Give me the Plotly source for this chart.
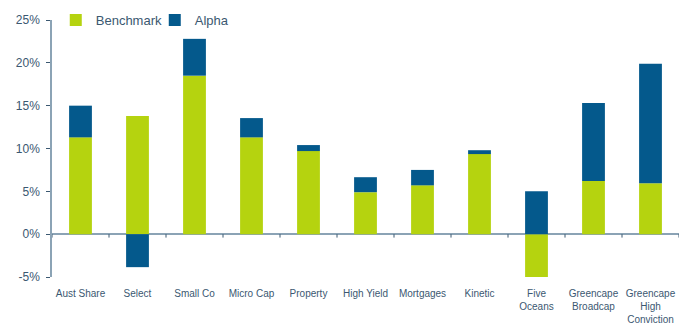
import plotly.graph_objects as go

categories = ["Aust Share", "Select", "Small Co", "Micro Cap", "Property", "High Yield",
              "Mortgages", "Kinetic", "Five<br>Oceans", "Greencape<br>Broadcap",
              "Greencape<br>High<br>Conviction"]
benchmark = [11.3, 13.8, 18.5, 11.3, 9.7, 4.9, 5.7, 9.35, -5.25, 6.2, 5.95]
alpha = [3.7, -3.85, 4.3, 2.25, 0.7, 1.75, 1.8, 0.45, 5.0, 9.1, 13.95]
y_ticks = [-5, 0, 5, 10, 15, 20, 25]
y_labels = [f"{v}%" for v in y_ticks]

BENCH_COLOR = "#B5D30F"
ALPHA_COLOR = "#04598C"
TEXT_COLOR = "#3B5871"
AXIS_COLOR = "#8BA3B5"
FONT = "Liberation Sans, Arial, sans-serif"

fig = go.Figure()
fig.add_bar(x=categories, y=benchmark, name="Benchmark", marker_color=BENCH_COLOR,
            marker_line_width=0)
fig.add_bar(x=categories, y=alpha, name="Alpha", marker_color=ALPHA_COLOR,
            marker_line_width=0)

# category-boundary ticks on the zero line
shapes = []
for i in range(len(categories) + 1):
    shapes.append(dict(type="line", xref="x", yref="y", x0=i - 0.5, x1=i - 0.5,
                       y0=0, y1=-0.4, line=dict(color=TEXT_COLOR, width=1)))

fig.update_layout(
    width=684, height=324,
    margin=dict(l=52, r=5, t=20, b=47, autoexpand=False),
    barmode="relative",
    bargap=0.6,
    plot_bgcolor="white", paper_bgcolor="white",
    font=dict(family=FONT, color=TEXT_COLOR, size=12),
    showlegend=True,
    legend=dict(orientation="h", x=0.006, y=1.0, xanchor="left", yanchor="middle",
                font=dict(size=13, color=TEXT_COLOR), bgcolor="rgba(0,0,0,0)",
                itemwidth=30, entrywidth=54, traceorder="normal"),
    shapes=shapes,
)
fig.update_xaxes(
    type="category", showline=False, showgrid=False, zeroline=False,
    ticks="", tickfont=dict(size=10, color=TEXT_COLOR), tickangle=0,
    ticklabelstandoff=9, automargin=False,
    range=[-0.5, len(categories) - 0.5],
)
fig.update_yaxes(
    range=[-5, 25], tickvals=y_ticks, ticktext=y_labels,
    showgrid=False, showline=True, linecolor=AXIS_COLOR, linewidth=1.5,
    ticks="outside", ticklen=4, tickcolor=TEXT_COLOR, ticklabelstandoff=4,
    automargin=False,
    zeroline=True, zerolinecolor=AXIS_COLOR, zerolinewidth=1.5,
    tickfont=dict(size=12, color=TEXT_COLOR),
)

fig.write_html("out.html")
